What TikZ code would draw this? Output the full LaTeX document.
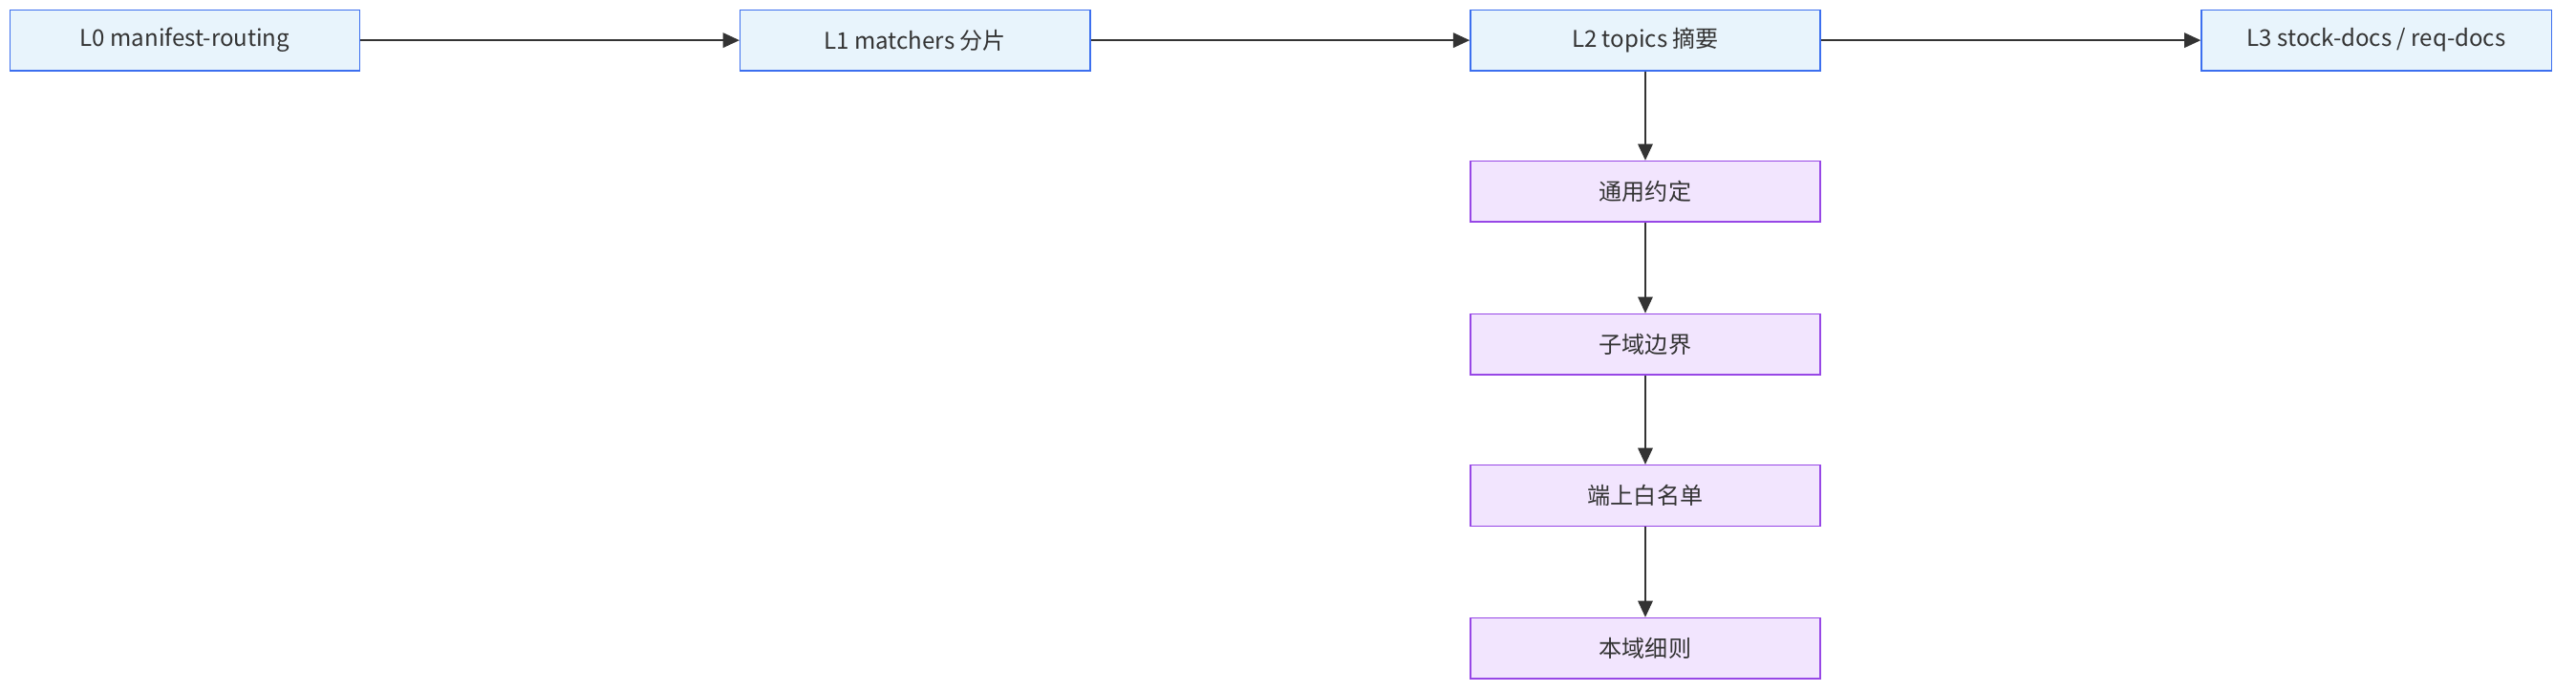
\documentclass[tikz,border=0pt]{standalone}
\usepackage{fontspec}
\setmainfont{Noto Sans CJK SC}
\usetikzlibrary{arrows.meta}
\definecolor{bfill}{HTML}{E8F4FC}
\definecolor{bdraw}{HTML}{3C6FEF}
\definecolor{pfill}{HTML}{F2E5FE}
\definecolor{pdraw}{HTML}{9747E6}
\definecolor{ln}{HTML}{333333}
\begin{document}
\begin{tikzpicture}[x=1pt,y=-1pt,
  box/.style={minimum width=213pt,minimum height=37pt,inner sep=0pt,line width=0.8pt,font=\fontsize{14}{16}\selectfont,text=ln},
  bbox/.style={box,fill=bfill,draw=bdraw},
  pbox/.style={box,fill=pfill,draw=pdraw},
  arr/.style={draw=ln,line width=1pt,-{Triangle[length=10pt,width=9pt]}}]
\useasboundingbox (0,0) rectangle (1568,421);
\node[bbox] (l0) at (112.5,24.5) {L0 manifest-routing};
\node[bbox] (l1) at (557,24.5) {L1 matchers 分片};
\node[bbox] (l2) at (1001.5,24.5) {L2 topics 摘要};
\node[bbox] (l3) at (1446.5,24.5) {L3 stock-docs / req-docs};
\node[pbox] (a) at (1001.5,116.5) {通用约定};
\node[pbox] (b) at (1001.5,209.5) {子域边界};
\node[pbox] (c) at (1001.5,301.5) {端上白名单};
\node[pbox] (d) at (1001.5,394.5) {本域细则};
\draw[arr] (l0) -- (l1);
\draw[arr] (l1) -- (l2);
\draw[arr] (l2) -- (l3);
\draw[arr] (l2) -- (a);
\draw[arr] (a) -- (b);
\draw[arr] (b) -- (c);
\draw[arr] (c) -- (d);
\end{tikzpicture}
\end{document}
